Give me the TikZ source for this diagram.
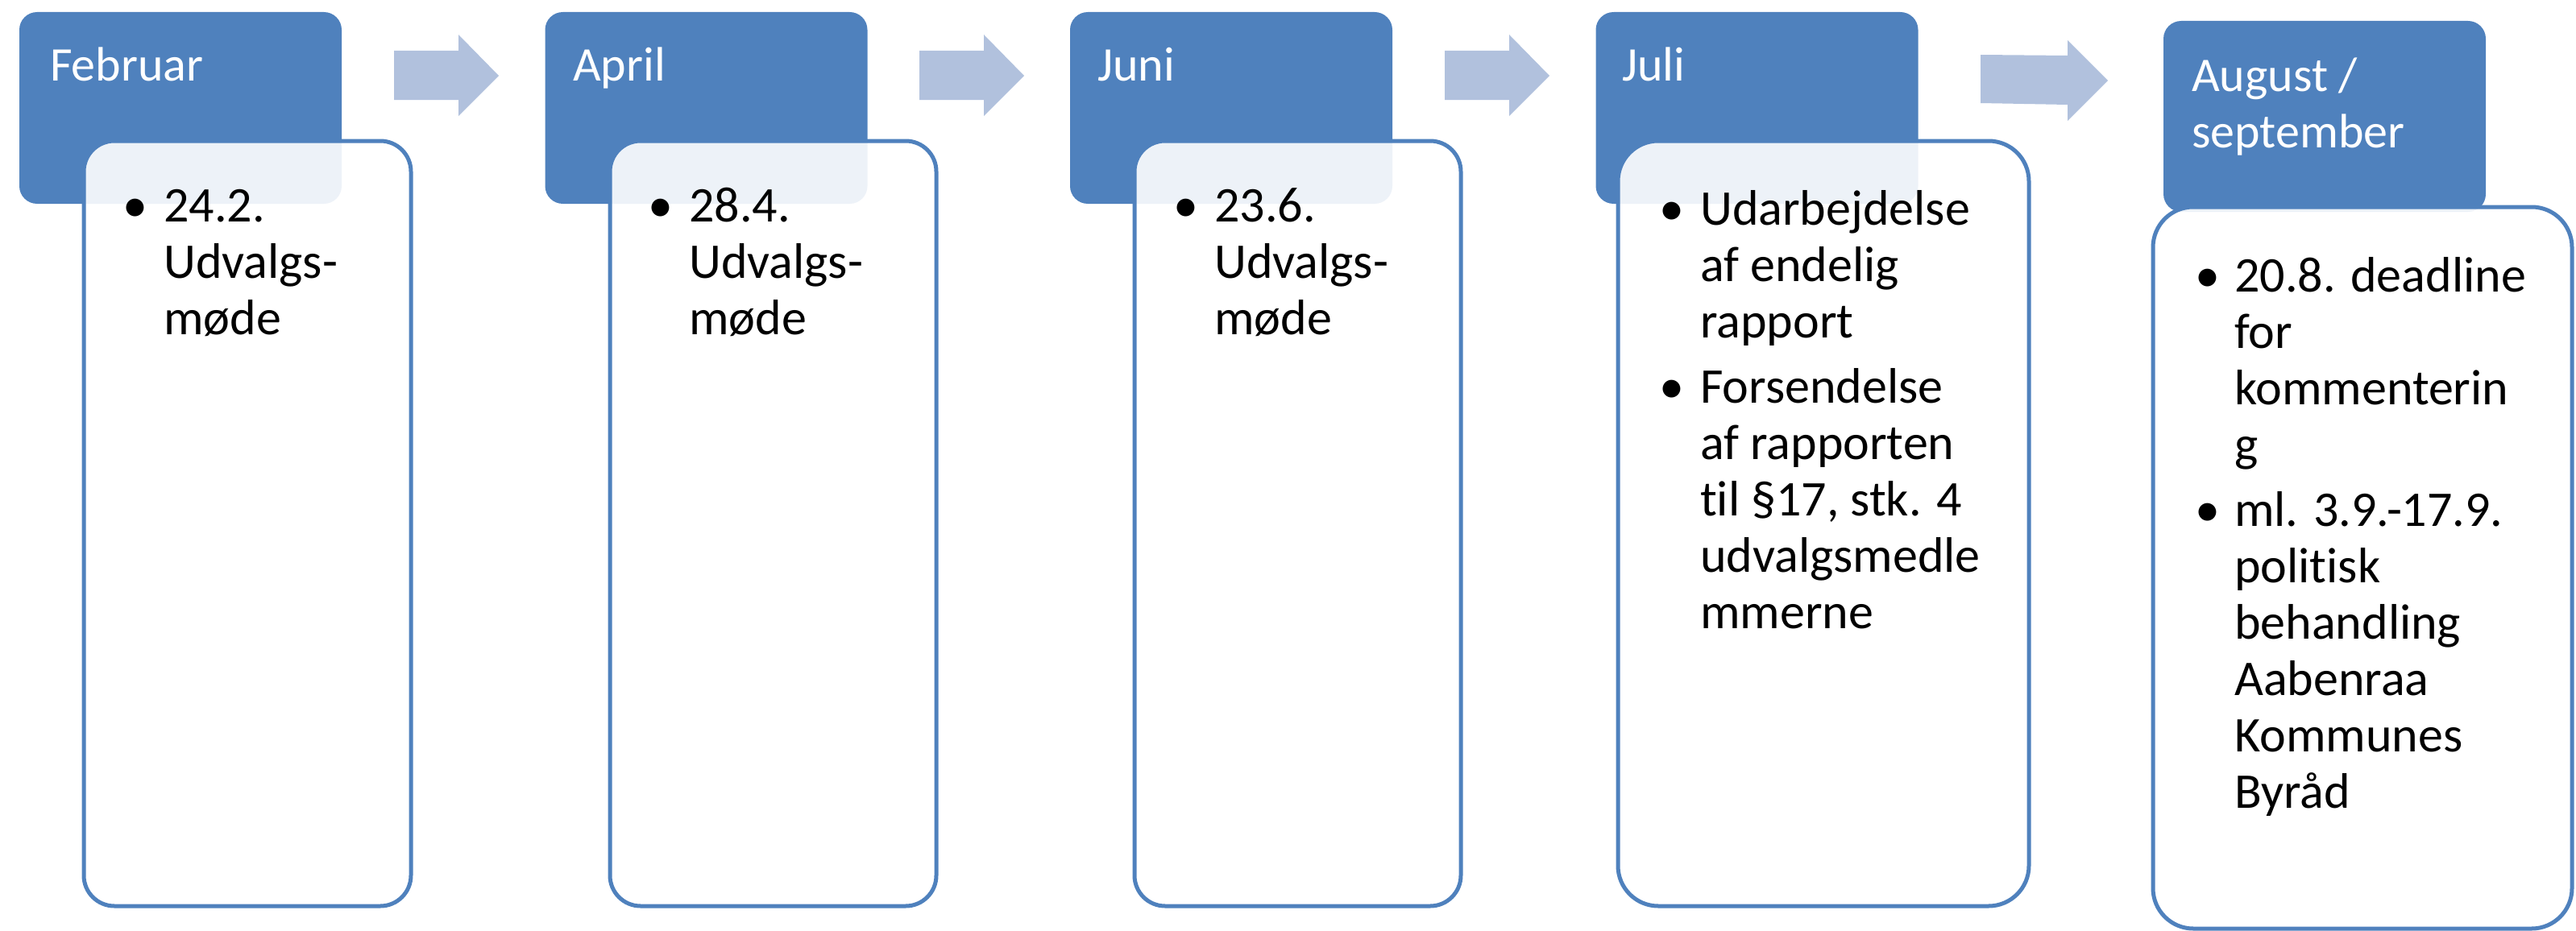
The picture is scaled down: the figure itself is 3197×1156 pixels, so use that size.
\documentclass[tikz,border=0pt]{standalone}
\usepackage{fontspec}
\setmainfont[Ligatures={NoCommon}]{Carlito}
\definecolor{hdrblue}{HTML}{4F81BD}
\definecolor{arrblue}{HTML}{B1C1DD}
\begin{document}
\begin{tikzpicture}[x=1pt,y=-1pt,
  hdrbox/.style={rectangle, fill=hdrblue, draw=none, rounded corners=22pt, inner sep=0, minimum width=400pt},
  bodybox/.style={rectangle, draw=hdrblue, line width=5pt, fill=white, fill opacity=0.9, draw opacity=1, inner sep=0},
  htxt/.style={anchor=base west, inner sep=0, text=white, font=\fontsize{60}{70}\selectfont, align=left},
  btxt/.style={anchor=base west, inner sep=0, text=black, font=\fontsize{62}{70}\selectfont, align=left},
  bul/.style={anchor=base, inner sep=0, text=black, font=\fontsize{62}{70}\selectfont},
  arrowfill/.style={fill=arrblue, draw=none}]
\useasboundingbox (0,0) rectangle (3197,1156);

% headers
\node[hdrbox, minimum height=238pt] (h1) at (224,134) {};
\node[hdrbox, minimum height=238pt] (h2) at (876.5,134) {};
\node[hdrbox, minimum height=238pt] (h3) at (1528,134) {};
\node[hdrbox, minimum height=238pt] (h4) at (2180.5,134) {};
\node[hdrbox, minimum height=237pt] (h5) at (2885,144.5) {};

% bodies
\node[bodybox, rounded corners=38pt, minimum width=406pt, minimum height=950pt] (b1) at (307,650) {};
\node[bodybox, rounded corners=38pt, minimum width=405pt, minimum height=950pt] (b2) at (959.5,650) {};
\node[bodybox, rounded corners=38pt, minimum width=405pt, minimum height=950pt] (b3) at (1610.5,650) {};
\node[bodybox, rounded corners=50pt, minimum width=510pt, minimum height=950pt] (b4) at (2263,650) {};
\node[bodybox, rounded corners=50pt, minimum width=520pt, minimum height=896pt] (b5) at (2932,705) {};

% arrows
\fill[arrowfill] (489,63) -- (569,63) -- (569,43) -- (619,94) -- (569,144) -- (569,124) -- (489,124) -- cycle;
\fill[arrowfill] (1141,63) -- (1221,63) -- (1221,43) -- (1271,94) -- (1221,144) -- (1221,124) -- (1141,124) -- cycle;
\fill[arrowfill] (1793,63) -- (1873,63) -- (1873,43) -- (1923,94) -- (1873,144) -- (1873,124) -- (1793,124) -- cycle;
\fill[arrowfill] (2458,68) -- (2566,69) -- (2566,50) -- (2616,100) -- (2566,150) -- (2566,130) -- (2458,128) -- cycle;

% header texts (anchor = baseline of last line)
\node[htxt] (t1) at (62,100) {Februar};
\node[htxt] (t2) at (711,100) {April};
\node[htxt] (t3) at (1362,100) {Juni};
\node[htxt] (t4) at (2013,100) {Juli};
\node[htxt] (t5) at (2720,183) {August /\\september};

% body texts (anchor = baseline of last line)
\node[bul] (p1) at (168,275) {•};
\node[btxt] (q1) at (203,415) {24.2.\\Udvalgs-\\møde};
\node[bul] (p2) at (820,275) {•};
\node[btxt] (q2) at (855,415) {28.4.\\Udvalgs-\\møde};
\node[bul] (p3) at (1472,275) {•};
\node[btxt] (q3) at (1507,415) {23.6.\\Udvalgs-\\møde};
\node[bul] (p4a) at (2075,279) {•};
\node[btxt] (q4a) at (2110,419) {Udarbejdelse\\af endelig\\rapport};
\node[bul] (p4b) at (2075,500) {•};
\node[btxt] (q4b) at (2110,780) {Forsendelse\\af rapporten\\til §17, stk. 4\\udvalgsmedle\\mmerne};
\node[bul] (p5a) at (2740,362) {•};
\node[btxt] (q5a) at (2773,572) {20.8. deadline\\for\\kommenterin\\g};
\node[bul] (p5b) at (2740,653) {•};
\node[btxt] (q5b) at (2773,1003) {ml. 3.9.-17.9.\\politisk\\behandling\\Aabenraa\\Kommunes\\Byråd};
\end{tikzpicture}
\end{document}
